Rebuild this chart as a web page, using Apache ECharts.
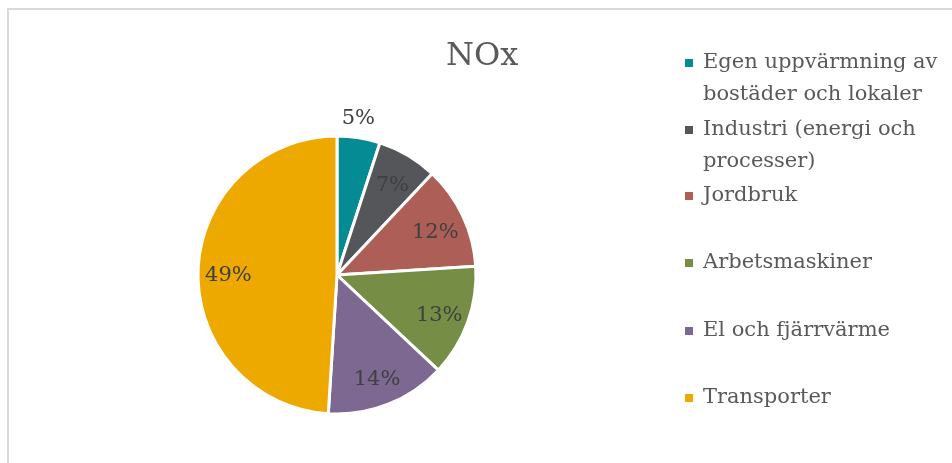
<!DOCTYPE html>
<html>
<head>
<meta charset="utf-8">
<title>NOx</title>
<script src="https://cdn.jsdelivr.net/npm/echarts@6/dist/echarts.min.js"></script>
<style>
  html, body { margin: 0; padding: 0; overflow: hidden; background: #fff; }
  #main { position: absolute; left: 0; top: 0; width: 952px; height: 463px; }
  .frame { position: absolute; left: 7px; top: 8px; width: 1000px; height: 500px; border: 2px solid #dadada; box-sizing: border-box; }
</style>
</head>
<body>
<div class="frame"></div>
<div id="main"></div>
<script>
// data
const categories = [
  'Egen uppvärmning av bostäder och lokaler',
  'Industri (energi och processer)',
  'Jordbruk',
  'Arbetsmaskiner',
  'El och fjärrvärme',
  'Transporter'
];
const legendLabels = [
  'Egen uppvärmning av\nbostäder och lokaler',
  'Industri (energi och\nprocesser)',
  'Jordbruk',
  'Arbetsmaskiner',
  'El och fjärrvärme',
  'Transporter'
];
const values = [5, 7, 12, 13, 14, 49];
const colors = ['#058b94', '#54565a', '#ad5e57', '#758d45', '#7c6890', '#eda900'];

// layout
const FONT = 'DejaVu Serif';
const CENTER = [337, 275];
const R = 139;
const LINE = 32;
const legendIconY = [63, 130, 196, 263, 331, 398];

function pieData(showLabel) {
  return categories.map((name, i) => ({
    name: name,
    value: values[i],
    label: { show: showLabel(i) }
  }));
}

// one legend per item; an empty first line keeps the icon on the first text line
const legends = categories.map((name, i) => {
  const twoLines = legendLabels[i].indexOf('\n') > -1;
  return {
    data: [name],
    left: 683,
    top: legendIconY[i] - (twoLines ? 1.5 * LINE : 0.5 * LINE),
    padding: 0,
    itemWidth: 10,
    itemHeight: 10,
    icon: 'rect',
    selectedMode: false,
    formatter: () => (twoLines ? ' \n' : '') + legendLabels[i],
    textStyle: {
      fontFamily: FONT,
      fontSize: 21,
      color: '#595959',
      lineHeight: LINE,
      padding: [0, 0, 0, 4]
    }
  };
});

const labelStyle = {
  position: 'inside',
  formatter: '{c}%',
  fontFamily: FONT,
  fontSize: 21,
  color: '#404040'
};

const option = {
  animation: false,
  color: colors,
  title: {
    text: 'NOx',
    left: 446,
    top: 41,
    padding: 0,
    textStyle: { fontFamily: FONT, fontSize: 32, fontWeight: 'normal', color: '#595959' }
  },
  legend: legends,
  series: [
    {
      type: 'pie',
      center: CENTER,
      radius: R,
      startAngle: 90,
      label: { show: false },
      labelLine: { show: false },
      itemStyle: { borderColor: '#fff', borderWidth: 3 },
      emphasis: { disabled: true },
      data: pieData(() => false)
    },
    {
      // labels inside the slices
      type: 'pie',
      center: CENTER,
      radius: [R * 0.52, R],
      startAngle: 90,
      silent: true,
      avoidLabelOverlap: false,
      itemStyle: { color: 'transparent' },
      label: labelStyle,
      labelLine: { show: false },
      labelLayout: { dy: 4 },
      data: pieData(i => i > 0)
    },
    {
      // small slice label outside
      type: 'pie',
      center: CENTER,
      radius: [R, R * 1.29],
      startAngle: 90,
      silent: true,
      avoidLabelOverlap: false,
      itemStyle: { color: 'transparent' },
      label: labelStyle,
      labelLine: { show: false },
      labelLayout: { dx: -4, dy: 4 },
      data: pieData(i => i === 0)
    }
  ]
};

const chart = echarts.init(document.getElementById('main'));
chart.setOption(option);
window.addEventListener('resize', () => chart.resize());
</script>
</body>
</html>
